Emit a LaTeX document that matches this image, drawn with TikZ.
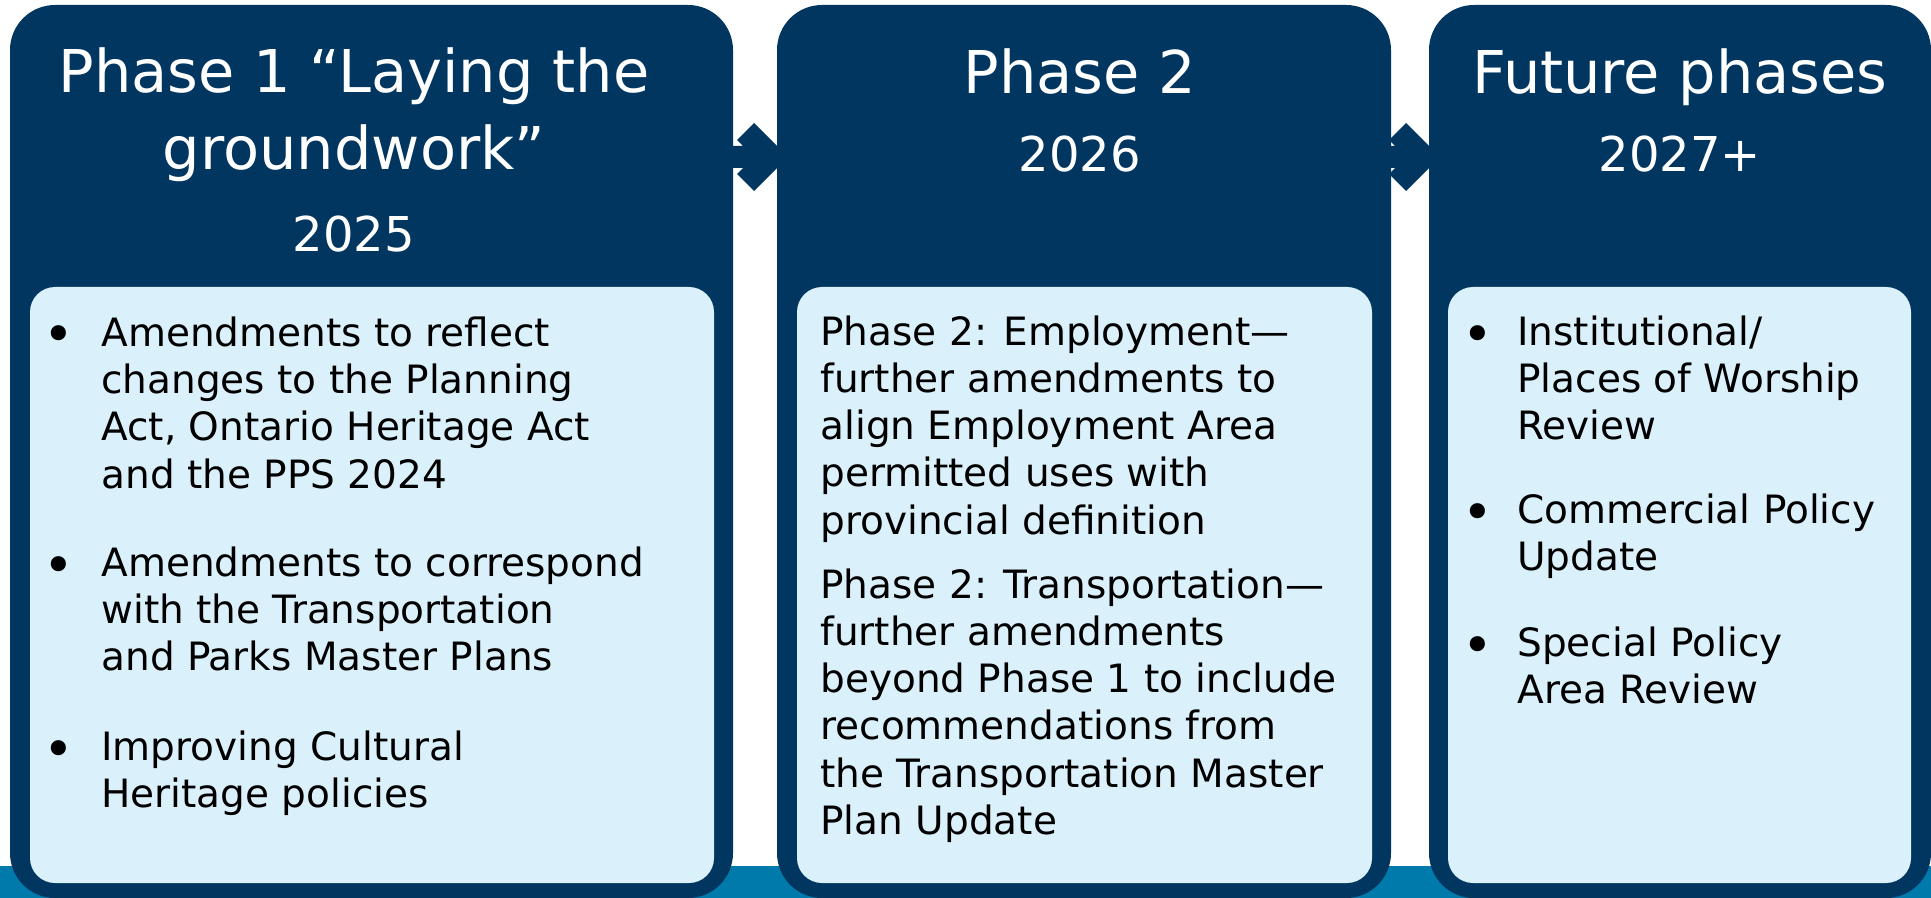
\documentclass[tikz,border=0pt]{standalone}
\usepackage{fontspec}
\setmainfont{DejaVu Sans}
\usepackage{xcolor}
\usetikzlibrary{calc}
\usetikzlibrary{positioning}

\definecolor{PhaseNavy}{RGB}{0,54,96}
\definecolor{PhaseLight}{RGB}{218,240,250}
\definecolor{PhaseTeal}{RGB}{0,122,170}

\tikzset{
  outerbox/.style={rectangle, fill=PhaseNavy, rounded corners=22.5pt, minimum height=446.5pt, anchor=north west, inner sep=0pt, outer sep=0pt},
  innerbox/.style={rectangle, fill=PhaseLight, rounded corners=12.5pt, minimum height=298pt, anchor=north west, inner sep=0pt, outer sep=0pt},
  headtext/.style={text=white, font=\fontsize{29.5}{38.5}\selectfont, align=center, anchor=base, inner sep=0pt},
  yeartext/.style={text=white, font=\fontsize{24}{29}\selectfont, anchor=base, inner sep=0pt},
  bodytext/.style={text=black, font=\fontsize{19.5}{23.65}\selectfont, align=left, anchor=base west, inner sep=0pt},
  bulletmark/.style={text=black, font=\fontsize{26}{30}\selectfont, anchor=base, inner sep=0pt, yshift=-3.5pt}
}

\begin{document}
\begin{tikzpicture}[x=0.5pt, y=-0.5pt]
\useasboundingbox (0,0) rectangle (1931,898);

% strip along the bottom
\fill[PhaseTeal] (0,866) rectangle (1931,898);

\node at (10,5)[outerbox, minimum width=361.5pt] (p1box) {};
\node at (777,5)[outerbox, minimum width=307pt] (p2box) {};
\node at (1429,5)[outerbox, minimum width=251pt] (p3box) {};

\node at (30,287)[innerbox, minimum width=342pt] (p1body) {};
\node at (797,287)[innerbox, minimum width=287.5pt] (p2body) {};
\node at (1448,287)[innerbox, minimum width=231.5pt] (p3body) {};

% connectors between the phases
\coordinate (j12) at ($(p2box.north west)+(0,152)$);
\coordinate (a12) at (p1box.east |- j12);
\fill[PhaseNavy] ($(a12)+(-2,-11)$) -- ($(j12)+(-34,-11)$) -- ($(j12)+(-40,-17)$) -- ($(j12)+(-23,-34)$) -- ($(j12)+(0,-11)$)
  -- ($(j12)+(0,11)$) -- ($(j12)+(-23,34)$) -- ($(j12)+(-40,17)$) -- ($(j12)+(-34,11)$) -- ($(a12)+(-2,11)$) -- cycle;

\coordinate (j23) at ($(p3box.north west)+(0,152)$);
\coordinate (a23) at (p2box.east |- j23);
\fill[PhaseNavy] ($(a23)+(-2,-11)$) -- ($(j23)+(-34,-11)$) -- ($(j23)+(-40,-17)$) -- ($(j23)+(-23,-34)$) -- ($(j23)+(0,-11)$)
  -- ($(j23)+(0,11)$) -- ($(j23)+(-23,34)$) -- ($(j23)+(-40,17)$) -- ($(j23)+(-34,11)$) -- ($(a23)+(-2,11)$) -- cycle;

% headings (base = last line)
\node at (354,170)[headtext] (p1title) {Phase 1 “Laying the\\groundwork”};
\node at (354,252)[yeartext] (p1year) {2025};
\node at (1080,94)[headtext] (p2title) {Phase 2};
\node at (1080,172)[yeartext] (p2year) {2026};
\node at (1680,94)[headtext] (p3title) {Future phases};
\node at (1680,172)[yeartext] (p3year) {2027+};

% phase 1
\node at (59,346)[bulletmark] (p1dot1) {•};
\node at (101,488)[bodytext] (p1item1) {Amendments to reflect\\changes to the Planning\\Act, Ontario Heritage Act\\and the PPS 2024};
\node at (59,576)[bulletmark] (p1dot2) {•};
\node at (101,670.6)[bodytext] (p1item2) {Amendments to correspond\\with the Transportation\\and Parks Master Plans};
\node at (59,760)[bulletmark] (p1dot3) {•};
\node at (101,807.3)[bodytext] (p1item3) {Improving Cultural\\Heritage policies};

% phase 2
\node at (820,534.2)[bodytext] (p2item1) {Phase 2: Employment—\\further amendments to\\align Employment Area\\permitted uses with\\provincial definition};
\node at (820,834.5)[bodytext] (p2item2) {Phase 2: Transportation—\\further amendments\\beyond Phase 1 to include\\recommendations from\\the Transportation Master\\Plan Update};

% future phases
\node at (1478,345)[bulletmark] (p3dot1) {•};
\node at (1517,439.6)[bodytext] (p3item1) {Institutional/\\Places of Worship\\Review};
\node at (1478,523)[bulletmark] (p3dot2) {•};
\node at (1517,570.3)[bodytext] (p3item2) {Commercial Policy\\Update};
\node at (1478,656)[bulletmark] (p3dot3) {•};
\node at (1517,703.3)[bodytext] (p3item3) {Special Policy\\Area Review};

\end{tikzpicture}
\end{document}
